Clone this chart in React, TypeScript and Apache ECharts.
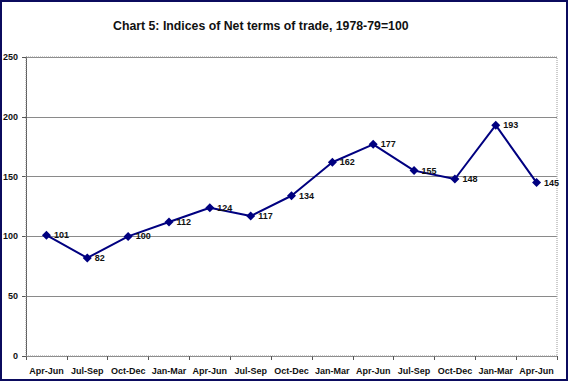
import React, { useEffect, useRef } from "react";
import * as echarts from "echarts";

const categories = ["Apr-Jun", "Jul-Sep", "Oct-Dec", "Jan-Mar", "Apr-Jun", "Jul-Sep", "Oct-Dec", "Jan-Mar", "Apr-Jun", "Jul-Sep", "Oct-Dec", "Jan-Mar", "Apr-Jun"];
const values = [101, 82, 100, 112, 124, 117, 134, 162, 177, 155, 148, 193, 145];
const title = "Chart 5: Indices of Net terms of trade, 1978-79=100";

export default function App() {
  const ref = useRef<HTMLDivElement>(null);
  useEffect(() => {
    document.body.style.margin = "0";
    const chart = echarts.init(ref.current!, null, { renderer: "svg" });
    chart.setOption({
      animation: false,
      backgroundColor: "#ffffff",
      title: {
        text: title,
        left: 108,
        top: 15,
        textStyle: { fontFamily: "Liberation Sans, Arial", fontSize: 12.3, fontWeight: "bold", color: "#111" },
      },
      graphic: [
        {
          type: "rect",
          shape: { x: 1, y: 1, width: 566, height: 379 },
          style: { fill: "none", stroke: "#0b0b5e", lineWidth: 2 },
          z: 100,
        },
        {
          type: "rect",
          shape: { x: 26, y: 57, width: 531, height: 299 },
          style: { fill: "none", stroke: "#9a9a9a", lineWidth: 1, lineDash: [1, 1] },
          z: 1,
        },
      ],
      grid: { left: 26, right: 11, top: 57, bottom: 25 },
      xAxis: {
        type: "category",
        data: categories,
        boundaryGap: true,
        axisLine: { show: false },
        axisTick: { show: true, length: 4, lineStyle: { color: "#555" }, alignWithLabel: false },
        axisLabel: { fontFamily: "Liberation Sans, Arial", fontSize: 9, fontWeight: "bold", color: "#111", margin: 10, interval: 0 },
      },
      yAxis: {
        type: "value",
        min: 0,
        max: 250,
        interval: 50,
        axisLine: { show: true, lineStyle: { color: "#555" } },
        axisTick: { show: true, length: 4, lineStyle: { color: "#555" } },
        axisLabel: { fontFamily: "Liberation Sans, Arial", fontSize: 9, fontWeight: "bold", color: "#111", margin: 8 },
        splitLine: { show: true, lineStyle: { color: "#8a8a8a", width: 1 } },
      },
      series: [
        {
          type: "line",
          data: values,
          symbol: "diamond",
          symbolSize: 9,
          itemStyle: { color: "#000080" },
          lineStyle: { color: "#000080", width: 2 },
          label: {
            show: true,
            position: "right",
            distance: 3,
            fontFamily: "Liberation Sans, Arial",
            fontSize: 9,
            fontWeight: "bold",
            color: "#111",
          },
        },
      ],
    });
    return () => chart.dispose();
  }, []);
  return <div ref={ref} style={{ position: "absolute", left: 0, top: 0, width: 568, height: 381 }} />;
}
